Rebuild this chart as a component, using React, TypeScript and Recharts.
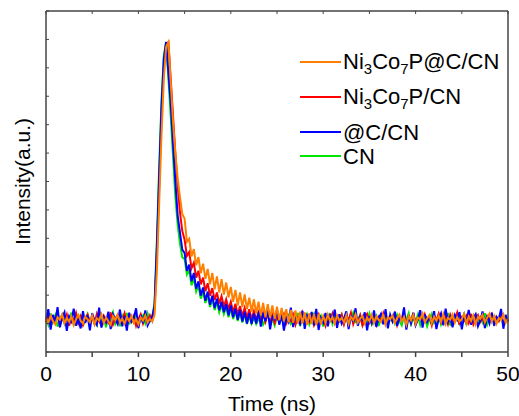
import React from 'react';
import { LineChart, Line, XAxis, YAxis, Legend, Label } from 'recharts';

const FONT = '"Liberation Sans", Arial, Helvetica, sans-serif';
const STEP_NS = 0.25;
const X_TICKS = [0, 5, 10, 15, 20, 25, 30, 35, 40, 45, 50];
const Y_TICKS = [0, 91.7, 183.3, 275, 366.7, 458.3, 550, 641.7, 733.3, 825, 916.7, 1008.3, 1100];

// Intensity (arb. units x1000), sampled every 0.25 ns from 0 to 50 ns
const CN = [
  110, 88, 125, 97, 118, 82, 106, 121, 92, 114,
  99, 127, 86, 111, 95, 120, 84, 108, 123, 90,
  116, 101, 87, 124, 94, 112, 80, 119, 105, 128,
  91, 109, 83, 117, 100, 126, 89, 113, 96, 122,
  85, 107, 118, 93, 124, 99, 110, 160, 360, 600,
  810, 955, 1000, 880, 760, 630, 500, 410, 350, 305,
  300, 250, 265, 215, 240, 195, 215, 172, 195, 158,
  182, 145, 172, 135, 162, 128, 152, 122, 145, 112,
  140, 106, 132, 100, 128, 95, 122, 90, 118, 92,
  112, 90, 106, 118, 88, 103, 121, 94, 109, 86,
  115, 98, 124, 87, 107, 119, 92, 111, 101, 126,
  84, 113, 97, 120, 89, 108, 123, 95, 104, 117,
  82, 110, 99, 125, 91, 114, 86, 106, 121, 93,
  116, 88, 109, 127, 97, 103, 119, 85, 112, 100,
  124, 90, 107, 118, 84, 111, 96, 122, 88, 105,
  113, 92, 120, 99, 86, 117, 104, 125, 90, 108,
  97, 121, 87, 110, 115, 83, 106, 123, 94, 102,
  118, 89, 112, 96, 126, 85, 109, 100, 120, 91,
  107, 123, 87, 114, 98, 104, 119, 92, 111, 95,
  125, 88, 106, 117, 93, 110, 101, 122, 86, 113,
  100,
];

const C_CN = [
  103, 138, 72, 120, 95, 145, 80, 110, 128, 68,
  115, 99, 140, 85, 107, 76, 132, 94, 118, 70,
  125, 101, 88, 143, 79, 112, 96, 130, 74, 121,
  105, 90, 137, 83, 116, 69, 127, 98, 109, 141,
  77, 119, 93, 134, 86, 102, 115, 150, 340, 570,
  790, 945, 1000, 900, 800, 670, 550, 440, 385, 330,
  320, 262, 282, 228, 255, 204, 228, 182, 208, 165,
  195, 152, 182, 142, 172, 135, 162, 128, 155, 118,
  150, 112, 140, 104, 136, 98, 130, 92, 126, 90,
  124, 92, 131, 82, 127, 99, 140, 73, 115, 106,
  136, 88, 121, 69, 112, 97, 143, 80, 124, 101,
  90, 133, 75, 118, 104, 129, 86, 139, 71, 110,
  95, 126, 83, 117, 100, 137, 78, 122, 92, 108,
  131, 74, 119, 97, 141, 85, 113, 103, 128, 70,
  116, 94, 134, 81, 109, 123, 89, 138, 76, 120,
  99, 130, 84, 111, 102, 144, 72, 117, 93, 127,
  87, 106, 135, 79, 121, 98, 115, 91, 132, 74,
  108, 125, 86, 140, 97, 112, 80, 119, 104, 129,
  73, 116, 95, 136, 88, 110, 122, 83, 101, 131,
  77, 118, 93, 127, 85, 113, 106, 139, 75, 120,
  98,
];

const NC_CN = [
  96, 118, 90, 112, 104, 124, 88, 109, 99, 121,
  85, 110, 102, 126, 93, 115, 87, 106, 120, 97,
  113, 91, 123, 100, 86, 117, 105, 94, 128, 89,
  108, 119, 95, 103, 125, 90, 111, 98, 116, 84,
  106, 122, 92, 114, 99, 118, 101, 140, 320, 540,
  760, 920, 995, 1000, 880, 760, 640, 535, 450, 390,
  362, 310, 322, 270, 288, 240, 262, 218, 240, 196,
  222, 182, 206, 168, 192, 156, 180, 146, 170, 138,
  162, 128, 156, 120, 148, 116, 142, 110, 138, 106,
  132, 102, 128, 98, 126, 97, 124, 95, 120, 94,
  118, 95, 112, 124, 92, 109, 100, 121, 88, 111,
  103, 126, 91, 114, 98, 119, 87, 107, 122, 96,
  110, 85, 117, 102, 124, 93, 108, 99, 120, 89,
  115, 104, 127, 90, 112, 97, 118, 86, 109, 123,
  94, 106, 120, 88, 113, 101, 125, 92, 107, 116,
  99, 122, 87, 110, 104, 119, 91, 114, 96, 126,
  89, 108, 117, 93, 121, 100, 112, 86, 118, 103,
  124, 95, 109, 115, 90, 120, 98, 106, 127, 88,
  112, 101, 117, 94, 123, 89, 107, 119, 97, 110,
  86, 116, 104, 121, 92, 113, 100, 125, 91, 108,
  102,
];

const NCC_CN = [
  108, 95, 117, 100, 89, 112, 104, 121, 93, 110,
  98, 115, 87, 106, 119, 101, 92, 114, 105, 96,
  118, 90, 109, 102, 122, 94, 111, 99, 87, 116,
  103, 120, 96, 108, 91, 113, 100, 117, 94, 106,
  89, 112, 101, 118, 95, 107, 99, 120, 260, 480,
  700, 880, 985, 1000, 870, 740, 640, 560, 500, 445,
  430, 355, 365, 308, 332, 280, 306, 254, 285, 236,
  268, 218, 255, 202, 244, 192, 235, 185, 224, 176,
  210, 162, 200, 150, 192, 145, 186, 138, 175, 130,
  170, 124, 162, 118, 158, 112, 154, 110, 150, 106,
  146, 102, 142, 99, 138, 96, 136, 94, 134, 92,
  130, 92, 128, 88, 125, 90, 123, 86, 122, 89,
  116, 94, 121, 99, 113, 92, 118, 101, 110, 96,
  119, 90, 114, 103, 122, 95, 108, 117, 92, 111,
  100, 120, 93, 115, 104, 97, 123, 89, 112, 106,
  118, 94, 109, 121, 99, 113, 88, 116, 102, 120,
  91, 111, 105, 124, 96, 108, 119, 93, 114, 101,
  117, 97, 122, 90, 110, 104, 121, 95, 112, 99,
  106, 123, 92, 115, 100, 118, 89, 113, 107, 120,
  95, 111, 124, 98, 116, 91, 109, 103, 121, 94,
  108,
];

const SERIES_NAMES = ['Ni3Co7P@C/CN', 'Ni3Co7P/CN', '@C/CN', 'CN'];
const SERIES_KEYS = ['nccn', 'ncn', 'ccn', 'cn'];
const SERIES_COLORS = ['#FF8000', '#FF0000', '#0000FF', '#00E600'];
const DRAW_ORDER = [3, 1, 2, 0];
const LEGEND_ROW_Y = [62, 97, 132, 156];

const data = CN.map((_, i) => ({
  t: i * STEP_NS,
  cn: CN[i],
  ccn: C_CN[i],
  ncn: NC_CN[i],
  nccn: NCC_CN[i],
}));

const withSubs = (label: string) =>
  label.split(/(\d)/).map((part, i) =>
    /^\d$/.test(part) ? (
      <span key={i} style={{ fontSize: 15, position: 'relative', top: 5 }}>{part}</span>
    ) : (
      <span key={i}>{part}</span>
    )
  );

const renderLegend = () => (
  <div style={{ position: 'relative', fontFamily: FONT }}>
    {SERIES_NAMES.map((name, k) => (
      <div
        key={name}
        style={{
          position: 'absolute',
          left: 300,
          top: LEGEND_ROW_Y[k] - 12,
          height: 24,
          display: 'flex',
          alignItems: 'center',
          whiteSpace: 'nowrap',
        }}
      >
        <div style={{ width: 41, height: 2, background: SERIES_COLORS[k], marginRight: 2 }} />
        <span style={{ fontSize: 22, lineHeight: '24px', color: '#000', position: 'relative', top: 1 }}>
          {withSubs(name)}
        </span>
      </div>
    ))}
  </div>
);

const renderYLabel = (props: any) => {
  const vb = props.viewBox || {};
  const x = (vb.x ?? 46) - 24;
  const y = (vb.y ?? 12) + (vb.height ?? 341) / 2;
  return (
    <text
      x={x}
      y={y}
      transform={`rotate(-90 ${x} ${y})`}
      textAnchor="middle"
      dominantBaseline="central"
      fontSize={21}
      fontFamily={FONT}
      fill="#000"
    >
      Intensity(a.u.)
    </text>
  );
};

const AXIS = '#444';
const AXIS_LINE = { stroke: AXIS, strokeWidth: 1.5 };

export default function App() {
  return (
    <div style={{ position: 'absolute', left: 0, top: 0, width: 519, height: 416, background: '#fff' }}>
      <LineChart
        width={519}
        height={416}
        data={data}
        margin={{ top: 11, right: 11, left: 46, bottom: 2 }}
      >
        <XAxis
          dataKey="t"
          type="number"
          domain={[0, 50]}
          ticks={X_TICKS}
          tickFormatter={(v: number) => (v % 10 === 0 ? String(v) : '')}
          tickSize={5}
          tickMargin={9}
          height={62}
          stroke={AXIS}
          axisLine={AXIS_LINE}
          tickLine={{ stroke: AXIS, strokeWidth: 1.5 }}
          tick={{ fontSize: 21, fill: '#000', fontFamily: FONT }}
          interval={0}
        >
          <Label value="Time (ns)" position="insideBottom" offset={3} dx={-5} fontSize={21} fontFamily={FONT} fill="#000" />
        </XAxis>
        <XAxis
          xAxisId="top"
          orientation="top"
          dataKey="t"
          type="number"
          domain={[0, 50]}
          ticks={X_TICKS}
          tickFormatter={() => ''}
          tickSize={3}
          mirror
          height={1}
          stroke={AXIS}
          axisLine={AXIS_LINE}
          interval={0}
        />
        <YAxis
          type="number"
          domain={[0, 1100]}
          ticks={Y_TICKS}
          tickFormatter={() => ''}
          tickSize={3}
          mirror
          width={1}
          stroke={AXIS}
          axisLine={AXIS_LINE}
          interval={0}
        >
          <Label content={renderYLabel} />
        </YAxis>
        <YAxis
          yAxisId="right"
          orientation="right"
          type="number"
          domain={[0, 1100]}
          ticks={Y_TICKS}
          tickFormatter={() => ''}
          tickSize={3}
          mirror
          width={1}
          stroke={AXIS}
          axisLine={AXIS_LINE}
          interval={0}
        />
        {DRAW_ORDER.map((k) => (
          <Line
            key={SERIES_KEYS[k]}
            dataKey={SERIES_KEYS[k]}
            name={SERIES_NAMES[k]}
            stroke={SERIES_COLORS[k]}
            strokeWidth={2}
            dot={false}
            type="linear"
            isAnimationActive={false}
          />
        ))}
        <Legend
          layout="vertical"
          align="center"
          verticalAlign="middle"
          content={renderLegend}
          wrapperStyle={{ left: 0, top: 0, width: 519, height: 0 }}
        />
      </LineChart>
    </div>
  );
}
